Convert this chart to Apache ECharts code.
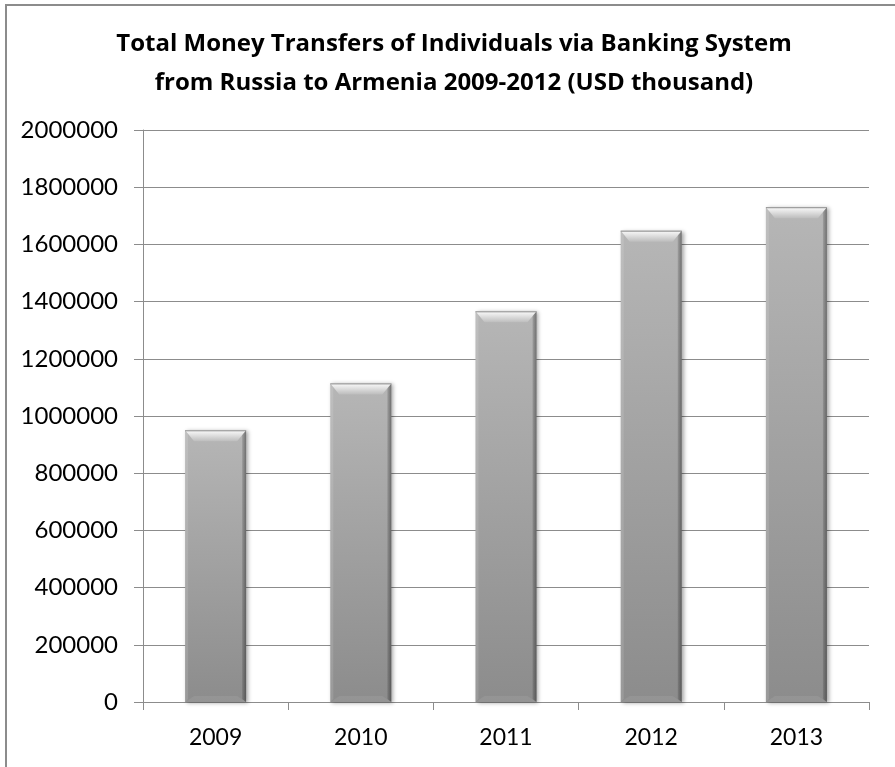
<!DOCTYPE html>
<html>
<head>
<meta charset="utf-8">
<title>Total Money Transfers of Individuals via Banking System</title>
<script src="https://cdn.jsdelivr.net/npm/echarts@6/dist/echarts.min.js"></script>
<style>
  html, body { margin: 0; padding: 0; background: #ffffff; }
  #chart { width: 895px; height: 767px; }
</style>
</head>
<body>
<div id="chart"></div>
<script>
// Yearly totals, USD thousand
const years = ['2009', '2010', '2011', '2012', '2013'];
const transfers = [950000, 1114000, 1366000, 1648000, 1730000];

// Value axis range
const yMin = 0;
const yMax = 2000000;
const yStep = 200000;

const titleLines = [
  'Total Money Transfers of Individuals via Banking System',
  'from Russia to Armenia 2009-2012 (USD thousand)'
];

const FONT = 'Lato, "Open Sans", sans-serif';
const TITLE_FONT = '"Open Sans", Lato, sans-serif';
const G = echarts.graphic;

// Bevelled grey column, positioned from the axis scales
function bevelBar(params, api) {
  const idx = api.value(0);
  const val = api.value(1);
  const top = api.coord([idx, val]);
  const base = api.coord([idx, 0]);
  const bw = api.size([1, 0])[0] * 0.42;
  const x0 = top[0] - bw / 2;
  const x1 = top[0] + bw / 2;
  const y0 = top[1];
  const y1 = base[1];
  const h = y1 - y0;
  const bev = 11;
  const inset = 9;
  return {
    type: 'group',
    children: [
      {
        type: 'rect',
        shape: { x: x0, y: y0, width: bw, height: h },
        style: {
          fill: new G.LinearGradient(0, 0, 0, 1, [
            { offset: 0, color: '#b6b6b6' },
            { offset: 1, color: '#8c8c8c' }
          ]),
          shadowBlur: 4,
          shadowColor: 'rgba(0,0,0,0.35)',
          shadowOffsetX: 2,
          shadowOffsetY: 1
        }
      },
      {
        type: 'polygon',
        shape: { points: [[x0, y0], [x0 + 3, y0 + 3], [x0 + 3, y1 - 3], [x0, y1]] },
        style: { fill: 'rgba(255,255,255,0.12)' }
      },
      {
        type: 'polygon',
        shape: { points: [[x1, y0], [x1 - 4, y0 + 4], [x1 - 4, y1 - 3], [x1, y1]] },
        style: {
          fill: new G.LinearGradient(0, 0, 1, 0, [
            { offset: 0, color: 'rgba(0,0,0,0.12)' },
            { offset: 1, color: 'rgba(0,0,0,0.38)' }
          ])
        }
      },
      {
        type: 'polygon',
        shape: { points: [[x0, y0], [x1, y0], [x1 - inset, y0 + bev], [x0 + inset, y0 + bev]] },
        style: {
          fill: new G.LinearGradient(0, 0, 0, 1, [
            { offset: 0, color: '#fbfbfb' },
            { offset: 1, color: '#bdbdbd' }
          ])
        }
      },
      {
        type: 'polygon',
        shape: { points: [[x0, y1], [x1, y1], [x1 - inset, y1 - 6], [x0 + inset, y1 - 6]] },
        style: { fill: 'rgba(255,255,255,0.07)' }
      },
      {
        type: 'line',
        shape: { x1: x0, y1: y0 + 0.5, x2: x1, y2: y0 + 0.5 },
        style: { stroke: '#8a8a8a', lineWidth: 1 }
      }
    ]
  };
}

const chart = echarts.init(document.getElementById('chart'), null, { renderer: 'canvas' });

chart.setOption({
  animation: false,
  backgroundColor: '#ffffff',
  graphic: [
    {
      type: 'rect',
      shape: { x: 6, y: 5, width: 1000, height: 1000 },
      style: { fill: null, stroke: '#8c8c8c', lineWidth: 2 },
      z: 100
    }
  ],
  title: {
    text: titleLines.join('\n'),
    left: 449,
    top: 20,
    textAlign: 'center',
    textStyle: {
      fontFamily: TITLE_FONT,
      fontWeight: 'bold',
      fontSize: 24,
      lineHeight: 39,
      color: '#000000'
    }
  },
  grid: {
    left: 143,
    right: 26,
    top: 130,
    bottom: 65,
    containLabel: false
  },
  xAxis: {
    type: 'category',
    data: years,
    boundaryGap: true,
    axisLine: { show: true, lineStyle: { color: '#8c8c8c', width: 1 } },
    axisTick: { show: true, alignWithLabel: false, length: 8, lineStyle: { color: '#8c8c8c' } },
    axisLabel: { color: '#000000', fontFamily: FONT, fontSize: 23, margin: 24 },
    splitLine: { show: false }
  },
  yAxis: {
    type: 'value',
    min: yMin,
    max: yMax,
    interval: yStep,
    axisLine: { show: true, lineStyle: { color: '#8c8c8c', width: 1 } },
    axisTick: { show: true, length: 9, lineStyle: { color: '#8c8c8c' } },
    axisLabel: {
      color: '#000000',
      fontFamily: FONT,
      fontSize: 24,
      margin: 25,
      formatter: v => String(v)
    },
    splitLine: { show: true, lineStyle: { color: '#8c8c8c', width: 1 } }
  },
  series: [
    {
      type: 'custom',
      name: 'Transfers',
      renderItem: bevelBar,
      encode: { x: 0, y: 1 },
      data: transfers.map((v, i) => [i, v]),
      z: 5
    }
  ]
});
</script>
</body>
</html>
